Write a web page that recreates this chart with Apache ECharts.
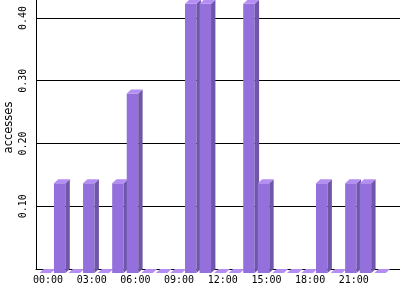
<!DOCTYPE html>
<html>
<head>
<meta charset="utf-8">
<script src="https://cdn.jsdelivr.net/npm/echarts@6/dist/echarts.min.js"></script>
<style>html,body{margin:0;padding:0;background:#fff;}#c{width:400px;height:300px;}</style>
</head>
<body>
<div id="c"></div>
<script>
var hours = ['00:00','01:00','02:00','03:00','04:00','05:00','06:00','07:00','08:00','09:00','10:00','11:00',
             '12:00','13:00','14:00','15:00','16:00','17:00','18:00','19:00','20:00','21:00','22:00','23:00',''];
var accesses = [0, 0.143, 0, 0.143, 0, 0.143, 0.286, 0, 0, 0, 0.429, 0.429,
                0, 0, 0.429, 0.143, 0, 0, 0, 0.143, 0, 0.143, 0.143, 0];
var yTicks = [0.10, 0.20, 0.30, 0.40];

var chart = echarts.init(document.getElementById('c'), null, {renderer: 'canvas'});
var data = accesses.map(function (v, i) { return [i, v]; });

chart.setOption({
  animation: false,
  backgroundColor: '#ffffff',
  grid: {left: 36, right: 0, top: 0, bottom: 31, containLabel: false, outerBoundsMode: 'none'},
  xAxis: {
    type: 'category',
    data: hours,
    boundaryGap: true,
    axisLine: {show: true, lineStyle: {color: '#000', width: 1}},
    axisTick: {show: false},
    axisLabel: {
      interval: 2,
      margin: 6,
      color: '#000',
      fontFamily: 'DejaVu Sans Mono',
      fontSize: 10,
      padding: [0, 0, 0, 9.5]
    },
    splitLine: {show: false}
  },
  yAxis: {
    type: 'value',
    min: 0,
    max: 0.4286,
    interval: 0.1,
    name: 'accesses',
    nameLocation: 'middle',
    nameRotate: 90,
    nameGap: 21,
    nameMoveOverlap: false,
    nameTextStyle: {color: '#000', fontFamily: 'DejaVu Sans', fontSize: 11.5, padding: [0, 0, 0, 14]},
    axisLine: {show: true, lineStyle: {color: '#000', width: 1}},
    axisTick: {show: false},
    axisLabel: {
      rotate: 90,
      margin: 8,
      color: '#000',
      fontFamily: 'DejaVu Sans Mono',
      fontSize: 10,
      showMinLabel: false,
      showMaxLabel: false,
      formatter: function (v) {
        for (var i = 0; i < yTicks.length; i++) {
          if (Math.abs(yTicks[i] - v) < 1e-6) return yTicks[i].toFixed(2);
        }
        return '';
      }
    },
    splitLine: {show: true, showMinLine: false, showMaxLine: false, lineStyle: {color: '#000', width: 1}}
  },
  series: [{
    type: 'custom',
    clip: false,
    data: data,
    encode: {x: 0, y: 1},
    renderItem: function (params, api) {
      var i = api.value(0), v = api.value(1);
      var top = api.coord([i, v]);
      var base = api.coord([i, 0]);
      var bw = api.size([1, 0])[0];
      var cx = top[0];
      var fl = cx - 0.268 * bw;
      var fw = 0.79 * bw;
      var dx = 0.3 * bw;
      var dy = 4;
      var vy = top[1], by = base[1];
      return {
        type: 'group',
        children: [
          {type: 'rect', shape: {x: fl, y: vy + dy, width: fw, height: by - vy},
           style: {fill: '#9370db'}},
          {type: 'polygon', shape: {points: [[fl + fw, vy + dy], [fl + fw + dx, vy], [fl + fw + dx, by], [fl + fw, by + dy]]},
           style: {fill: '#6f56a8'}},
          {type: 'polygon', shape: {points: [[fl, vy + dy], [fl + dx, vy], [fl + fw + dx, vy], [fl + fw, vy + dy]]},
           style: {fill: '#b48ef2'}}
        ]
      };
    }
  }]
});
</script>
</body>
</html>
